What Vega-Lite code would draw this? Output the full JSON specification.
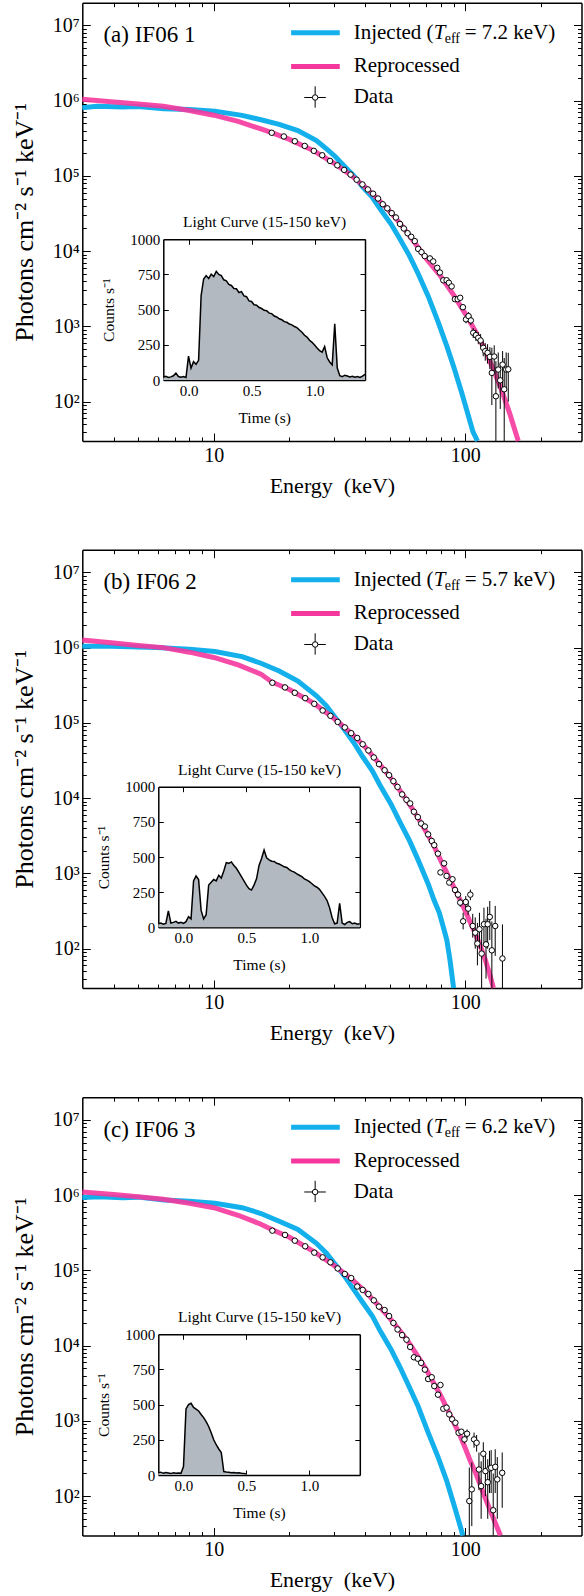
{
"$schema": "https://vega.github.io/schema/vega-lite/v6.json",
"width": 584, "height": 1596,
"autosize": {"type": "none"},
"padding": 0,
"background": "white",
"config": {
  "view": {"stroke": null},
  "font": "Liberation Serif, Times New Roman, Times, serif",
  "axis": {"grid": false, "labelFont": "Liberation Serif, Times New Roman, Times, serif", "titleFont": "Liberation Serif, Times New Roman, Times, serif", "labelColor": "black", "titleColor": "black", "tickColor": "black", "domainColor": "black", "titleFontWeight": "normal", "labelFlush": false, "labelOverlap": false, "labelBound": false, "tickWidth": 1, "domainWidth": 1.5},
  "text": {"font": "Liberation Serif, Times New Roman, Times, serif", "color": "black"}
},
"resolve": {"scale": {"x": "independent", "y": "independent"}, "axis": {"x": "independent", "y": "independent"}},
"datasets": {
"blueA": [{"E":3,"F":805000},{"E":3.43,"F":840000},{"E":4.35,"F":820000},{"E":5,"F":835000},{"E":6.33,"F":780000},{"E":8,"F":760000},{"E":10.1,"F":720000},{"E":12.96,"F":637000},{"E":15.4,"F":557000},{"E":18.2,"F":483000},{"E":21.6,"F":400000},{"E":25.6,"F":295000},{"E":28,"F":230000},{"E":30.4,"F":181000},{"E":33,"F":135000},{"E":36,"F":101000},{"E":39,"F":72000},{"E":42.7,"F":52000},{"E":46,"F":36000},{"E":50.7,"F":22900},{"E":55,"F":14500},{"E":60.1,"F":8600},{"E":65,"F":5000},{"E":71.3,"F":2500},{"E":78,"F":1150},{"E":84.5,"F":546},{"E":90,"F":290},{"E":96.9,"F":130},{"E":102,"F":72},{"E":107.3,"F":40},{"E":111.8,"F":30}],
"pinkA": [{"E":3,"F":1040000},{"E":4,"F":960000},{"E":5,"F":900000},{"E":6.3,"F":840000},{"E":8,"F":740000},{"E":10,"F":640000},{"E":12.5,"F":530000},{"E":15.4,"F":420000},{"E":17,"F":375000},{"E":20,"F":305000},{"E":25,"F":215000},{"E":30,"F":148000},{"E":35,"F":103000},{"E":40,"F":71000},{"E":45,"F":49000},{"E":50,"F":34000},{"E":55,"F":23500},{"E":60,"F":16000},{"E":65,"F":11200},{"E":70,"F":7900},{"E":80,"F":4600},{"E":90,"F":2600},{"E":100,"F":1480},{"E":110,"F":850},{"E":120,"F":480},{"E":130,"F":257},{"E":140,"F":138},{"E":150,"F":71},{"E":160,"F":35.5},{"E":162.5,"F":30}],
"dataA": [{"E":17,"F":374000},{"E":19,"F":334000},{"E":21,"F":289000},{"E":23,"F":250000},{"E":25,"F":215000},{"E":27,"F":188000},{"E":29,"F":158000},{"E":31,"F":138000},{"E":33,"F":120000},{"E":35,"F":104000},{"E":37,"F":89000},{"E":39,"F":77000},{"E":41,"F":66000},{"E":43,"F":58000},{"E":45,"F":50000},{"E":47,"F":42000},{"E":49,"F":37000},{"E":51,"F":32000},{"E":53,"F":28000},{"E":55,"F":23000},{"E":57,"F":20000},{"E":59,"F":17300},{"E":61,"F":15500},{"E":63,"F":13600},{"E":65,"F":10700},{"E":67,"F":9700},{"E":69,"F":8600},{"E":72.4,"F":8000},{"E":74.6,"F":7300},{"E":77.4,"F":6000},{"E":79.3,"F":5200},{"E":81.8,"F":4100},{"E":84.3,"F":4100},{"E":86.1,"F":3800},{"E":88.3,"F":3400},{"E":91,"F":2300},{"E":93.3,"F":2300},{"E":95.5,"F":2400},{"E":97.9,"F":1800},{"E":100.7,"F":1240,"lo":1100,"hi":1400},{"E":103.1,"F":1370,"lo":1200,"hi":1550},{"E":105.3,"F":1200,"lo":1050,"hi":1370},{"E":107.6,"F":822,"lo":700,"hi":950},{"E":110.3,"F":766,"lo":640,"hi":900},{"E":112.7,"F":705,"lo":580,"hi":840},{"E":115.1,"F":650,"lo":520,"hi":790},{"E":117.9,"F":519,"lo":400,"hi":650},{"E":120.1,"F":468,"lo":350,"hi":600},{"E":122.7,"F":445,"lo":320,"hi":580},{"E":125.3,"F":394,"lo":270,"hi":530},{"E":127.6,"F":241,"lo":90,"hi":520},{"E":130.4,"F":398,"lo":250,"hi":560},{"E":132.4,"F":118,"lo":30,"hi":345},{"E":135.3,"F":267,"lo":150,"hi":450},{"E":137.8,"F":192,"lo":80,"hi":330},{"E":140.8,"F":311,"lo":140,"hi":470},{"E":142.9,"F":146,"lo":30,"hi":380},{"E":145.5,"F":267,"lo":140,"hi":450},{"E":148.3,"F":269,"lo":100,"hi":445}],
"blueB": [{"E":3,"F":1040000},{"E":3.93,"F":1040000},{"E":5,"F":1020000},{"E":5.9,"F":1000000},{"E":8,"F":950000},{"E":10.1,"F":890000},{"E":12.96,"F":760000},{"E":15.4,"F":620000},{"E":18.2,"F":490000},{"E":21.6,"F":360000},{"E":25.6,"F":229000},{"E":28,"F":170000},{"E":30.4,"F":118000},{"E":33,"F":82000},{"E":36,"F":55000},{"E":39,"F":36000},{"E":42.7,"F":23000},{"E":46,"F":14500},{"E":50.7,"F":8300},{"E":55,"F":4800},{"E":60.1,"F":2700},{"E":65,"F":1500},{"E":71.3,"F":718},{"E":75,"F":450},{"E":78.8,"F":301},{"E":81.6,"F":200},{"E":84.5,"F":130},{"E":87,"F":70},{"E":89.9,"F":30}],
"pinkB": [{"E":3,"F":1260000},{"E":4,"F":1150000},{"E":5,"F":1070000},{"E":6.3,"F":1000000},{"E":8,"F":870000},{"E":10,"F":740000},{"E":12.5,"F":590000},{"E":15.4,"F":445000},{"E":17,"F":350000},{"E":20,"F":277000},{"E":25,"F":182000},{"E":30,"F":115000},{"E":35,"F":74000},{"E":40,"F":48000},{"E":45,"F":30000},{"E":50,"F":19500},{"E":55,"F":12600},{"E":60,"F":8300},{"E":65,"F":5400},{"E":70,"F":3550},{"E":75,"F":2340},{"E":80,"F":1480},{"E":85,"F":977},{"E":90,"F":661},{"E":95,"F":457},{"E":100,"F":316},{"E":105,"F":219},{"E":110,"F":155},{"E":115,"F":107},{"E":120,"F":72},{"E":125,"F":46},{"E":129.5,"F":30}],
"dataB": [{"E":17.1,"F":341000},{"E":19.2,"F":296000},{"E":21,"F":251000},{"E":23.1,"F":213000},{"E":25.1,"F":179000},{"E":27.1,"F":146000},{"E":29.1,"F":124000},{"E":31.1,"F":103000},{"E":33.2,"F":87000},{"E":35.2,"F":73000},{"E":37.2,"F":63000},{"E":39.1,"F":52000},{"E":41.2,"F":43000},{"E":43.3,"F":34700},{"E":45.4,"F":28300},{"E":47.8,"F":23500},{"E":49.8,"F":20200},{"E":51.8,"F":16800},{"E":53.8,"F":14100},{"E":56.1,"F":11200},{"E":58.4,"F":9500},{"E":60.4,"F":8500},{"E":62.5,"F":6600},{"E":64.8,"F":5600},{"E":66.8,"F":4600},{"E":69.1,"F":4200},{"E":71.2,"F":3300},{"E":73.6,"F":2700},{"E":75.3,"F":2370},{"E":77.9,"F":1830},{"E":79.7,"F":1030},{"E":82.4,"F":1360},{"E":84.3,"F":925},{"E":86.4,"F":755},{"E":89,"F":836},{"E":91.1,"F":603},{"E":93.6,"F":522,"lo":470,"hi":580},{"E":95.5,"F":409,"lo":360,"hi":465},{"E":98.1,"F":231,"lo":180,"hi":300},{"E":100.5,"F":417,"lo":350,"hi":500},{"E":102.7,"F":340,"lo":280,"hi":420},{"E":104.8,"F":522,"lo":440,"hi":610},{"E":107.1,"F":200,"lo":140,"hi":290},{"E":109.6,"F":163,"lo":100,"hi":260},{"E":111.8,"F":117,"lo":60,"hi":220},{"E":113.9,"F":181,"lo":100,"hi":300},{"E":116.2,"F":86,"lo":30,"hi":190},{"E":118.7,"F":211,"lo":110,"hi":350},{"E":121,"F":114,"lo":40,"hi":250},{"E":122.8,"F":211,"lo":100,"hi":360},{"E":125.2,"F":264,"lo":130,"hi":430},{"E":127.6,"F":95,"lo":30,"hi":230},{"E":131.6,"F":200,"lo":80,"hi":370},{"E":140.6,"F":74,"lo":30,"hi":210}],
"blueC": [{"E":3,"F":930000},{"E":3.5,"F":950000},{"E":4.35,"F":920000},{"E":5,"F":940000},{"E":6.33,"F":860000},{"E":8,"F":830000},{"E":10.1,"F":780000},{"E":12.96,"F":680000},{"E":15.4,"F":570000},{"E":18.2,"F":450000},{"E":21.6,"F":350000},{"E":25.6,"F":229000},{"E":28,"F":170000},{"E":30.4,"F":120000},{"E":33,"F":85000},{"E":36,"F":56000},{"E":39,"F":38000},{"E":42.7,"F":24800},{"E":46,"F":15500},{"E":50.7,"F":8900},{"E":55,"F":5200},{"E":60.1,"F":2760},{"E":65,"F":1550},{"E":71.3,"F":695},{"E":78,"F":330},{"E":84.5,"F":158},{"E":90.5,"F":74},{"E":94,"F":48},{"E":97.9,"F":30}],
"pinkC": [{"E":3,"F":1100000},{"E":4,"F":1020000},{"E":5,"F":950000},{"E":6.3,"F":880000},{"E":8,"F":780000},{"E":10,"F":680000},{"E":12.5,"F":540000},{"E":15.4,"F":410000},{"E":17,"F":350000},{"E":20,"F":275000},{"E":25,"F":178000},{"E":30,"F":117000},{"E":35,"F":79000},{"E":40,"F":52500},{"E":45,"F":34700},{"E":50,"F":23400},{"E":55,"F":15800},{"E":60,"F":10700},{"E":65,"F":7100},{"E":70,"F":4800},{"E":75,"F":3160},{"E":80,"F":2140},{"E":85,"F":1410},{"E":90,"F":955},{"E":95,"F":661},{"E":100,"F":437},{"E":105,"F":288},{"E":110,"F":204},{"E":115,"F":138},{"E":120,"F":95},{"E":125,"F":68},{"E":130,"F":49},{"E":135,"F":36},{"E":138,"F":30}],
"dataC": [{"E":17.1,"F":337000},{"E":19.2,"F":296000},{"E":21,"F":248000},{"E":23.1,"F":209000},{"E":25.1,"F":172000},{"E":27.1,"F":149000},{"E":29.1,"F":128000},{"E":31.1,"F":106000},{"E":33.2,"F":89500},{"E":35.2,"F":79000},{"E":37.2,"F":61000},{"E":39.1,"F":55000},{"E":41.2,"F":48500},{"E":43.3,"F":40000},{"E":45.4,"F":33000},{"E":47.8,"F":29700},{"E":49.8,"F":24700},{"E":51.8,"F":20000},{"E":53.8,"F":16400},{"E":56.1,"F":13800},{"E":58.4,"F":12000},{"E":60.4,"F":9600},{"E":62.5,"F":7000},{"E":64.8,"F":6700},{"E":66.8,"F":5900},{"E":69.1,"F":4800},{"E":71.2,"F":3600},{"E":73.6,"F":3800},{"E":75.3,"F":2900},{"E":77.9,"F":2230},{"E":79.7,"F":3000},{"E":81.8,"F":1450},{"E":84.3,"F":1500},{"E":86.4,"F":1220},{"E":88.7,"F":1050},{"E":91.4,"F":945},{"E":94.1,"F":695},{"E":96.5,"F":718},{"E":99.3,"F":568,"lo":500,"hi":640},{"E":101.7,"F":675,"lo":590,"hi":770},{"E":103.8,"F":86,"lo":30,"hi":240},{"E":106.2,"F":123,"lo":40,"hi":280},{"E":108.4,"F":568,"lo":440,"hi":700},{"E":111,"F":512,"lo":390,"hi":650},{"E":113.4,"F":226,"lo":120,"hi":380},{"E":115.7,"F":136,"lo":50,"hi":290},{"E":118,"F":366,"lo":230,"hi":520},{"E":120.3,"F":215,"lo":100,"hi":370},{"E":122.9,"F":153,"lo":50,"hi":310},{"E":124.9,"F":233,"lo":110,"hi":400},{"E":126.8,"F":238,"lo":110,"hi":410},{"E":129.2,"F":65,"lo":30,"hi":200},{"E":131.6,"F":245,"lo":110,"hi":420},{"E":134.1,"F":167,"lo":50,"hi":330},{"E":140.3,"F":204,"lo":70,"hi":380}],
"lcA": [{"t":-0.2,"r":20},{"t":-0.18,"r":26},{"t":-0.16,"r":18},{"t":-0.14,"r":22},{"t":-0.12,"r":30},{"t":-0.1,"r":48},{"t":-0.08,"r":25},{"t":-0.06,"r":20},{"t":-0.04,"r":24},{"t":-0.02,"r":18},{"t":0,"r":170},{"t":0.02,"r":85},{"t":0.04,"r":130},{"t":0.06,"r":112},{"t":0.08,"r":140},{"t":0.1,"r":600},{"t":0.12,"r":718},{"t":0.14,"r":742},{"t":0.16,"r":722},{"t":0.18,"r":752},{"t":0.2,"r":735},{"t":0.22,"r":772},{"t":0.24,"r":750},{"t":0.26,"r":742},{"t":0.28,"r":712},{"t":0.3,"r":705},{"t":0.32,"r":680},{"t":0.34,"r":672},{"t":0.36,"r":650},{"t":0.38,"r":648},{"t":0.4,"r":622},{"t":0.42,"r":628},{"t":0.44,"r":598},{"t":0.46,"r":592},{"t":0.48,"r":562},{"t":0.5,"r":558},{"t":0.52,"r":535},{"t":0.54,"r":532},{"t":0.56,"r":515},{"t":0.58,"r":508},{"t":0.6,"r":495},{"t":0.62,"r":492},{"t":0.64,"r":475},{"t":0.66,"r":472},{"t":0.68,"r":455},{"t":0.7,"r":448},{"t":0.72,"r":435},{"t":0.74,"r":428},{"t":0.76,"r":415},{"t":0.78,"r":410},{"t":0.8,"r":398},{"t":0.82,"r":392},{"t":0.84,"r":380},{"t":0.86,"r":372},{"t":0.88,"r":355},{"t":0.9,"r":340},{"t":0.92,"r":318},{"t":0.94,"r":305},{"t":0.96,"r":282},{"t":0.98,"r":268},{"t":1,"r":248},{"t":1.02,"r":228},{"t":1.04,"r":208},{"t":1.06,"r":198},{"t":1.08,"r":238},{"t":1.1,"r":158},{"t":1.12,"r":128},{"t":1.14,"r":108},{"t":1.16,"r":400},{"t":1.18,"r":85},{"t":1.2,"r":30},{"t":1.22,"r":24},{"t":1.24,"r":34},{"t":1.26,"r":28},{"t":1.28,"r":22},{"t":1.3,"r":27},{"t":1.32,"r":20},{"t":1.34,"r":24},{"t":1.36,"r":18},{"t":1.38,"r":28},{"t":1.4,"r":40}],
"lcB": [{"t":-0.2,"r":25},{"t":-0.18,"r":30},{"t":-0.16,"r":22},{"t":-0.14,"r":28},{"t":-0.12,"r":117},{"t":-0.1,"r":30},{"t":-0.08,"r":35},{"t":-0.06,"r":42},{"t":-0.04,"r":30},{"t":-0.02,"r":35},{"t":0,"r":28},{"t":0.02,"r":40},{"t":0.04,"r":75},{"t":0.06,"r":60},{"t":0.08,"r":330},{"t":0.1,"r":365},{"t":0.12,"r":340},{"t":0.14,"r":120},{"t":0.16,"r":60},{"t":0.18,"r":90},{"t":0.2,"r":300},{"t":0.22,"r":320},{"t":0.24,"r":340},{"t":0.26,"r":330},{"t":0.28,"r":370},{"t":0.3,"r":350},{"t":0.32,"r":400},{"t":0.34,"r":460},{"t":0.36,"r":455},{"t":0.38,"r":465},{"t":0.4,"r":440},{"t":0.42,"r":420},{"t":0.44,"r":390},{"t":0.46,"r":360},{"t":0.48,"r":330},{"t":0.5,"r":300},{"t":0.52,"r":275},{"t":0.54,"r":265},{"t":0.56,"r":300},{"t":0.58,"r":345},{"t":0.6,"r":440},{"t":0.62,"r":490},{"t":0.64,"r":550},{"t":0.66,"r":495},{"t":0.68,"r":480},{"t":0.7,"r":470},{"t":0.72,"r":468},{"t":0.74,"r":455},{"t":0.76,"r":450},{"t":0.78,"r":440},{"t":0.8,"r":430},{"t":0.82,"r":425},{"t":0.84,"r":410},{"t":0.86,"r":400},{"t":0.88,"r":392},{"t":0.9,"r":380},{"t":0.92,"r":370},{"t":0.94,"r":360},{"t":0.96,"r":345},{"t":0.98,"r":335},{"t":1,"r":325},{"t":1.02,"r":310},{"t":1.04,"r":295},{"t":1.06,"r":285},{"t":1.08,"r":270},{"t":1.1,"r":245},{"t":1.12,"r":220},{"t":1.14,"r":190},{"t":1.16,"r":140},{"t":1.18,"r":70},{"t":1.2,"r":25},{"t":1.22,"r":30},{"t":1.24,"r":170},{"t":1.26,"r":30},{"t":1.28,"r":20},{"t":1.3,"r":35},{"t":1.32,"r":40},{"t":1.34,"r":25},{"t":1.36,"r":30},{"t":1.38,"r":22},{"t":1.4,"r":25}],
"lcC": [{"t":-0.2,"r":15},{"t":-0.18,"r":20},{"t":-0.16,"r":12},{"t":-0.14,"r":18},{"t":-0.12,"r":14},{"t":-0.1,"r":10},{"t":-0.08,"r":16},{"t":-0.06,"r":12},{"t":-0.04,"r":15},{"t":-0.02,"r":12},{"t":0,"r":60},{"t":0.02,"r":470},{"t":0.04,"r":500},{"t":0.06,"r":510},{"t":0.08,"r":480},{"t":0.1,"r":468},{"t":0.12,"r":455},{"t":0.14,"r":430},{"t":0.16,"r":408},{"t":0.18,"r":380},{"t":0.2,"r":345},{"t":0.22,"r":300},{"t":0.24,"r":250},{"t":0.26,"r":215},{"t":0.28,"r":185},{"t":0.3,"r":160},{"t":0.32,"r":25},{"t":0.34,"r":22},{"t":0.36,"r":20},{"t":0.38,"r":16},{"t":0.4,"r":18},{"t":0.42,"r":14},{"t":0.44,"r":16},{"t":0.46,"r":12},{"t":0.48,"r":10},{"t":0.5,"r":8}]
},
"layer": [
{"data":{"name":"blueA"},"mark":{"type":"line","color":"#14B0EC","strokeWidth":5},
 "encoding":{"x":{"field":"E","type":"quantitative","scale":{"type":"log","domain":[3,290],"range":[82.3,581.5],"nice":false},
   "axis":{"orient":"bottom","offset":-1155,"values":[10,100],"format":"d","tickSize":-8,"labelFontSize":20,"labelPadding":12,"title":"Energy\u00a0 (keV)","titleFontSize":22,"titlePadding":10}},
  "y":{"field":"F","type":"quantitative","scale":{"type":"log","domain":[30,20000000],"range":[441,2.7],"nice":false},
   "axis":{"orient":"left","offset":-82.3,"values":[100,1000,10000,100000,1000000,10000000],"labelExpr":"'10' + ['⁰','¹','²','³','⁴','⁵','⁶','⁷'][round(log(datum.value)/LN10)]","tickSize":-8,"labelFontSize":20,"labelPadding":11,"title":"Photons cm⁻² s⁻¹ keV⁻¹","titleFontSize":26,"titlePadding":15}}}},
{"data":{"name":"pinkA"},"mark":{"type":"line","color":"#F5379D","strokeWidth":5,"opacity":0.9},
 "encoding":{"x":{"field":"E","type":"quantitative","scale":{"type":"log","domain":[3,290],"range":[82.3,581.5],"nice":false},
   "axis":{"orient":"bottom","offset":-1155,"values":[4,5,6,7,8,9,20,30,40,50,60,70,80,90,200],"tickSize":-4,"labels":false,"domain":false,"title":null}},
  "y":{"field":"F","type":"quantitative","scale":{"type":"log","domain":[30,20000000],"range":[441,2.7],"nice":false},
   "axis":{"orient":"left","offset":-82.3,"values":[40,50,60,70,80,90,200,300,400,500,600,700,800,900,2000,3000,4000,5000,6000,7000,8000,9000,20000,30000,40000,50000,60000,70000,80000,90000,200000,300000,400000,500000,600000,700000,800000,900000,2000000,3000000,4000000,5000000,6000000,7000000,8000000,9000000],"tickSize":-4,"labels":false,"domain":false,"title":null}}}},
{"data":{"name":"dataA"},"transform":[{"filter":"isValid(datum.lo)"}],"mark":{"type":"rule","color":"black","strokeWidth":1},
 "encoding":{"x":{"field":"E","type":"quantitative","scale":{"type":"log","domain":[3,290],"range":[82.3,581.5],"nice":false},
   "axis":{"orient":"top","offset":-2.7,"values":[10,100],"tickSize":-8,"labels":false,"title":null}},
  "y":{"field":"lo","type":"quantitative","scale":{"type":"log","domain":[30,20000000],"range":[441,2.7],"nice":false},
   "axis":{"orient":"right","offset":-2.5,"values":[100,1000,10000,100000,1000000,10000000],"tickSize":-8,"labels":false,"title":null}},
  "y2":{"field":"hi"}}},
{"data":{"name":"dataA"},"mark":{"type":"point","shape":"circle","filled":true,"fill":"white","stroke":"black","strokeWidth":1,"size":30,"opacity":1},
 "encoding":{"x":{"field":"E","type":"quantitative","scale":{"type":"log","domain":[3,290],"range":[82.3,581.5],"nice":false},
   "axis":{"orient":"top","offset":-2.7,"values":[4,5,6,7,8,9,20,30,40,50,60,70,80,90,200],"tickSize":-4,"labels":false,"domain":false,"title":null}},
  "y":{"field":"F","type":"quantitative","scale":{"type":"log","domain":[30,20000000],"range":[441,2.7],"nice":false},
   "axis":{"orient":"right","offset":-2.5,"values":[40,50,60,70,80,90,200,300,400,500,600,700,800,900,2000,3000,4000,5000,6000,7000,8000,9000,20000,30000,40000,50000,60000,70000,80000,90000,200000,300000,400000,500000,600000,700000,800000,900000,2000000,3000000,4000000,5000000,6000000,7000000,8000000,9000000],"tickSize":-4,"labels":false,"domain":false,"title":null}}}},
{"data":{"values":[{}]},"mark":{"type":"rule","color":"#14B0EC","strokeWidth":5},
 "encoding":{"x":{"datum":20.3,"type":"quantitative","scale":{"type":"log","domain":[3,290],"range":[82.3,581.5],"nice":false},"axis":null},"x2":{"datum":31.7},
  "y":{"datum":8000000,"type":"quantitative","scale":{"type":"log","domain":[30,20000000],"range":[441,2.7],"nice":false},"axis":null}}},
{"data":{"values":[{}]},"mark":{"type":"rule","color":"#F5379D","strokeWidth":5},
 "encoding":{"x":{"datum":20.3,"type":"quantitative","scale":{"type":"log","domain":[3,290],"range":[82.3,581.5],"nice":false},"axis":null},"x2":{"datum":31.7},
  "y":{"datum":2850000,"type":"quantitative","scale":{"type":"log","domain":[30,20000000],"range":[441,2.7],"nice":false},"axis":null}}},
{"data":{"values":[{}]},"mark":{"type":"rule","color":"black","strokeWidth":1},
 "encoding":{"x":{"datum":25.3,"type":"quantitative","scale":{"type":"log","domain":[3,290],"range":[82.3,581.5],"nice":false},"axis":null},
  "y":{"datum":806000,"type":"quantitative","scale":{"type":"log","domain":[30,20000000],"range":[441,2.7],"nice":false},"axis":null},"y2":{"datum":1550000}}},
{"data":{"values":[{}]},"mark":{"type":"rule","color":"black","strokeWidth":1},
 "encoding":{"x":{"datum":22.9,"type":"quantitative","scale":{"type":"log","domain":[3,290],"range":[82.3,581.5],"nice":false},"axis":null},"x2":{"datum":27.9},
  "y":{"datum":1100000,"type":"quantitative","scale":{"type":"log","domain":[30,20000000],"range":[441,2.7],"nice":false},"axis":null}}},
{"data":{"values":[{}]},"mark":{"type":"point","shape":"circle","filled":true,"fill":"white","stroke":"black","strokeWidth":1,"size":30,"opacity":1},
 "encoding":{"x":{"datum":25.3,"type":"quantitative","scale":{"type":"log","domain":[3,290],"range":[82.3,581.5],"nice":false},"axis":null},
  "y":{"datum":1100000,"type":"quantitative","scale":{"type":"log","domain":[30,20000000],"range":[441,2.7],"nice":false},"axis":null}}},
{"data":{"values":[{}]},"mark":{"type":"text","align":"left","baseline":"middle","fontSize":21},
 "encoding":{"text":{"value":"Injected ("},"x":{"datum":36,"type":"quantitative","scale":{"type":"log","domain":[3,290],"range":[82.3,581.5],"nice":false},"axis":null},
  "y":{"datum":8000000,"type":"quantitative","scale":{"type":"log","domain":[30,20000000],"range":[441,2.7],"nice":false},"axis":null}}},
{"data":{"values":[{}]},"mark":{"type":"text","align":"left","baseline":"middle","fontSize":21,"fontStyle":"italic","dx":80},
 "encoding":{"text":{"value":"T"},"x":{"datum":36,"type":"quantitative","scale":{"type":"log","domain":[3,290],"range":[82.3,581.5],"nice":false},"axis":null},
  "y":{"datum":8000000,"type":"quantitative","scale":{"type":"log","domain":[30,20000000],"range":[441,2.7],"nice":false},"axis":null}}},
{"data":{"values":[{}]},"mark":{"type":"text","align":"left","baseline":"middle","fontSize":14,"dx":91,"dy":6},
 "encoding":{"text":{"value":"eff"},"x":{"datum":36,"type":"quantitative","scale":{"type":"log","domain":[3,290],"range":[82.3,581.5],"nice":false},"axis":null},
  "y":{"datum":8000000,"type":"quantitative","scale":{"type":"log","domain":[30,20000000],"range":[441,2.7],"nice":false},"axis":null}}},
{"data":{"values":[{}]},"mark":{"type":"text","align":"left","baseline":"middle","fontSize":21,"dx":111},
 "encoding":{"text":{"value":"= 7.2 keV)"},"x":{"datum":36,"type":"quantitative","scale":{"type":"log","domain":[3,290],"range":[82.3,581.5],"nice":false},"axis":null},
  "y":{"datum":8000000,"type":"quantitative","scale":{"type":"log","domain":[30,20000000],"range":[441,2.7],"nice":false},"axis":null}}},
{"data":{"values":[{}]},"mark":{"type":"text","align":"left","baseline":"middle","fontSize":21},
 "encoding":{"text":{"value":"Reprocessed"},"x":{"datum":36,"type":"quantitative","scale":{"type":"log","domain":[3,290],"range":[82.3,581.5],"nice":false},"axis":null},
  "y":{"datum":2850000,"type":"quantitative","scale":{"type":"log","domain":[30,20000000],"range":[441,2.7],"nice":false},"axis":null}}},
{"data":{"values":[{}]},"mark":{"type":"text","align":"left","baseline":"middle","fontSize":21},
 "encoding":{"text":{"value":"Data"},"x":{"datum":36,"type":"quantitative","scale":{"type":"log","domain":[3,290],"range":[82.3,581.5],"nice":false},"axis":null},
  "y":{"datum":1100000,"type":"quantitative","scale":{"type":"log","domain":[30,20000000],"range":[441,2.7],"nice":false},"axis":null}}},
{"data":{"values":[{}]},"mark":{"type":"text","align":"left","baseline":"middle","fontSize":23},
 "encoding":{"text":{"value":"(a) IF06 1"},"x":{"datum":3.64,"type":"quantitative","scale":{"type":"log","domain":[3,290],"range":[82.3,581.5],"nice":false},"axis":null},
  "y":{"datum":7420000,"type":"quantitative","scale":{"type":"log","domain":[30,20000000],"range":[441,2.7],"nice":false},"axis":null}}},
{"data":{"name":"lcA"},"mark":{"type":"area","color":"#B2B9C0","opacity":1},
 "encoding":{"x":{"field":"t","type":"quantitative","scale":{"type":"linear","domain":[-0.2,1.4],"range":[163.3,365],"nice":false,"zero":false},
   "axis":{"orient":"bottom","offset":-1216,"values":[0,0.5,1],"format":".1f","tickSize":-5,"labelFontSize":15,"labelPadding":8,"title":"Time (s)","titleFontSize":15.5,"titlePadding":12}},
  "y":{"field":"r","type":"quantitative","scale":{"type":"linear","domain":[0,1000],"range":[380,239.3],"nice":false,"zero":false},
   "axis":{"orient":"left","offset":-163.3,"values":[0,250,500,750,1000],"format":"d","tickSize":-5,"labelFontSize":15,"labelPadding":8.5,"title":"Counts s⁻¹","titleFontSize":15.5,"titlePadding":13.5}},
  "y2":{"datum":0}}},
{"data":{"name":"lcA"},"mark":{"type":"line","color":"black","strokeWidth":1.5},
 "encoding":{"x":{"field":"t","type":"quantitative","scale":{"type":"linear","domain":[-0.2,1.4],"range":[163.3,365],"nice":false,"zero":false},
   "axis":{"orient":"top","offset":-239.3,"values":[0,0.5,1],"tickSize":-5,"labels":false,"title":"Light Curve (15-150 keV)","titleFontSize":15.5,"titlePadding":9}},
  "y":{"field":"r","type":"quantitative","scale":{"type":"linear","domain":[0,1000],"range":[380,239.3],"nice":false,"zero":false},
   "axis":{"orient":"right","offset":-219,"values":[0,250,500,750,1000],"tickSize":-5,"labels":false,"title":null}}}},

{"data":{"name":"blueB"},"mark":{"type":"line","color":"#14B0EC","strokeWidth":5},
 "encoding":{"x":{"field":"E","type":"quantitative","scale":{"type":"log","domain":[3,290],"range":[82.3,581.5],"nice":false},
   "axis":{"orient":"bottom","offset":-608,"values":[10,100],"format":"d","tickSize":-8,"labelFontSize":20,"labelPadding":12,"title":"Energy\u00a0 (keV)","titleFontSize":22,"titlePadding":10}},
  "y":{"field":"F","type":"quantitative","scale":{"type":"log","domain":[30,20000000],"range":[988,549.7],"nice":false},
   "axis":{"orient":"left","offset":-82.3,"values":[100,1000,10000,100000,1000000,10000000],"labelExpr":"'10' + ['⁰','¹','²','³','⁴','⁵','⁶','⁷'][round(log(datum.value)/LN10)]","tickSize":-8,"labelFontSize":20,"labelPadding":11,"title":"Photons cm⁻² s⁻¹ keV⁻¹","titleFontSize":26,"titlePadding":15}}}},
{"data":{"name":"pinkB"},"mark":{"type":"line","color":"#F5379D","strokeWidth":5,"opacity":0.9},
 "encoding":{"x":{"field":"E","type":"quantitative","scale":{"type":"log","domain":[3,290],"range":[82.3,581.5],"nice":false},
   "axis":{"orient":"bottom","offset":-608,"values":[4,5,6,7,8,9,20,30,40,50,60,70,80,90,200],"tickSize":-4,"labels":false,"domain":false,"title":null}},
  "y":{"field":"F","type":"quantitative","scale":{"type":"log","domain":[30,20000000],"range":[988,549.7],"nice":false},
   "axis":{"orient":"left","offset":-82.3,"values":[40,50,60,70,80,90,200,300,400,500,600,700,800,900,2000,3000,4000,5000,6000,7000,8000,9000,20000,30000,40000,50000,60000,70000,80000,90000,200000,300000,400000,500000,600000,700000,800000,900000,2000000,3000000,4000000,5000000,6000000,7000000,8000000,9000000],"tickSize":-4,"labels":false,"domain":false,"title":null}}}},
{"data":{"name":"dataB"},"transform":[{"filter":"isValid(datum.lo)"}],"mark":{"type":"rule","color":"black","strokeWidth":1},
 "encoding":{"x":{"field":"E","type":"quantitative","scale":{"type":"log","domain":[3,290],"range":[82.3,581.5],"nice":false},
   "axis":{"orient":"top","offset":-549.7,"values":[10,100],"tickSize":-8,"labels":false,"title":null}},
  "y":{"field":"lo","type":"quantitative","scale":{"type":"log","domain":[30,20000000],"range":[988,549.7],"nice":false},
   "axis":{"orient":"right","offset":-2.5,"values":[100,1000,10000,100000,1000000,10000000],"tickSize":-8,"labels":false,"title":null}},
  "y2":{"field":"hi"}}},
{"data":{"name":"dataB"},"mark":{"type":"point","shape":"circle","filled":true,"fill":"white","stroke":"black","strokeWidth":1,"size":30,"opacity":1},
 "encoding":{"x":{"field":"E","type":"quantitative","scale":{"type":"log","domain":[3,290],"range":[82.3,581.5],"nice":false},
   "axis":{"orient":"top","offset":-549.7,"values":[4,5,6,7,8,9,20,30,40,50,60,70,80,90,200],"tickSize":-4,"labels":false,"domain":false,"title":null}},
  "y":{"field":"F","type":"quantitative","scale":{"type":"log","domain":[30,20000000],"range":[988,549.7],"nice":false},
   "axis":{"orient":"right","offset":-2.5,"values":[40,50,60,70,80,90,200,300,400,500,600,700,800,900,2000,3000,4000,5000,6000,7000,8000,9000,20000,30000,40000,50000,60000,70000,80000,90000,200000,300000,400000,500000,600000,700000,800000,900000,2000000,3000000,4000000,5000000,6000000,7000000,8000000,9000000],"tickSize":-4,"labels":false,"domain":false,"title":null}}}},
{"data":{"values":[{}]},"mark":{"type":"rule","color":"#14B0EC","strokeWidth":5},
 "encoding":{"x":{"datum":20.3,"type":"quantitative","scale":{"type":"log","domain":[3,290],"range":[82.3,581.5],"nice":false},"axis":null},"x2":{"datum":31.7},
  "y":{"datum":8000000,"type":"quantitative","scale":{"type":"log","domain":[30,20000000],"range":[988,549.7],"nice":false},"axis":null}}},
{"data":{"values":[{}]},"mark":{"type":"rule","color":"#F5379D","strokeWidth":5},
 "encoding":{"x":{"datum":20.3,"type":"quantitative","scale":{"type":"log","domain":[3,290],"range":[82.3,581.5],"nice":false},"axis":null},"x2":{"datum":31.7},
  "y":{"datum":2850000,"type":"quantitative","scale":{"type":"log","domain":[30,20000000],"range":[988,549.7],"nice":false},"axis":null}}},
{"data":{"values":[{}]},"mark":{"type":"rule","color":"black","strokeWidth":1},
 "encoding":{"x":{"datum":25.3,"type":"quantitative","scale":{"type":"log","domain":[3,290],"range":[82.3,581.5],"nice":false},"axis":null},
  "y":{"datum":806000,"type":"quantitative","scale":{"type":"log","domain":[30,20000000],"range":[988,549.7],"nice":false},"axis":null},"y2":{"datum":1550000}}},
{"data":{"values":[{}]},"mark":{"type":"rule","color":"black","strokeWidth":1},
 "encoding":{"x":{"datum":22.9,"type":"quantitative","scale":{"type":"log","domain":[3,290],"range":[82.3,581.5],"nice":false},"axis":null},"x2":{"datum":27.9},
  "y":{"datum":1100000,"type":"quantitative","scale":{"type":"log","domain":[30,20000000],"range":[988,549.7],"nice":false},"axis":null}}},
{"data":{"values":[{}]},"mark":{"type":"point","shape":"circle","filled":true,"fill":"white","stroke":"black","strokeWidth":1,"size":30,"opacity":1},
 "encoding":{"x":{"datum":25.3,"type":"quantitative","scale":{"type":"log","domain":[3,290],"range":[82.3,581.5],"nice":false},"axis":null},
  "y":{"datum":1100000,"type":"quantitative","scale":{"type":"log","domain":[30,20000000],"range":[988,549.7],"nice":false},"axis":null}}},
{"data":{"values":[{}]},"mark":{"type":"text","align":"left","baseline":"middle","fontSize":21},
 "encoding":{"text":{"value":"Injected ("},"x":{"datum":36,"type":"quantitative","scale":{"type":"log","domain":[3,290],"range":[82.3,581.5],"nice":false},"axis":null},
  "y":{"datum":8000000,"type":"quantitative","scale":{"type":"log","domain":[30,20000000],"range":[988,549.7],"nice":false},"axis":null}}},
{"data":{"values":[{}]},"mark":{"type":"text","align":"left","baseline":"middle","fontSize":21,"fontStyle":"italic","dx":80},
 "encoding":{"text":{"value":"T"},"x":{"datum":36,"type":"quantitative","scale":{"type":"log","domain":[3,290],"range":[82.3,581.5],"nice":false},"axis":null},
  "y":{"datum":8000000,"type":"quantitative","scale":{"type":"log","domain":[30,20000000],"range":[988,549.7],"nice":false},"axis":null}}},
{"data":{"values":[{}]},"mark":{"type":"text","align":"left","baseline":"middle","fontSize":14,"dx":91,"dy":6},
 "encoding":{"text":{"value":"eff"},"x":{"datum":36,"type":"quantitative","scale":{"type":"log","domain":[3,290],"range":[82.3,581.5],"nice":false},"axis":null},
  "y":{"datum":8000000,"type":"quantitative","scale":{"type":"log","domain":[30,20000000],"range":[988,549.7],"nice":false},"axis":null}}},
{"data":{"values":[{}]},"mark":{"type":"text","align":"left","baseline":"middle","fontSize":21,"dx":111},
 "encoding":{"text":{"value":"= 5.7 keV)"},"x":{"datum":36,"type":"quantitative","scale":{"type":"log","domain":[3,290],"range":[82.3,581.5],"nice":false},"axis":null},
  "y":{"datum":8000000,"type":"quantitative","scale":{"type":"log","domain":[30,20000000],"range":[988,549.7],"nice":false},"axis":null}}},
{"data":{"values":[{}]},"mark":{"type":"text","align":"left","baseline":"middle","fontSize":21},
 "encoding":{"text":{"value":"Reprocessed"},"x":{"datum":36,"type":"quantitative","scale":{"type":"log","domain":[3,290],"range":[82.3,581.5],"nice":false},"axis":null},
  "y":{"datum":2850000,"type":"quantitative","scale":{"type":"log","domain":[30,20000000],"range":[988,549.7],"nice":false},"axis":null}}},
{"data":{"values":[{}]},"mark":{"type":"text","align":"left","baseline":"middle","fontSize":21},
 "encoding":{"text":{"value":"Data"},"x":{"datum":36,"type":"quantitative","scale":{"type":"log","domain":[3,290],"range":[82.3,581.5],"nice":false},"axis":null},
  "y":{"datum":1100000,"type":"quantitative","scale":{"type":"log","domain":[30,20000000],"range":[988,549.7],"nice":false},"axis":null}}},
{"data":{"values":[{}]},"mark":{"type":"text","align":"left","baseline":"middle","fontSize":23},
 "encoding":{"text":{"value":"(b) IF06 2"},"x":{"datum":3.64,"type":"quantitative","scale":{"type":"log","domain":[3,290],"range":[82.3,581.5],"nice":false},"axis":null},
  "y":{"datum":7420000,"type":"quantitative","scale":{"type":"log","domain":[30,20000000],"range":[988,549.7],"nice":false},"axis":null}}},
{"data":{"name":"lcB"},"mark":{"type":"area","color":"#B2B9C0","opacity":1},
 "encoding":{"x":{"field":"t","type":"quantitative","scale":{"type":"linear","domain":[-0.2,1.4],"range":[158.3,359.8],"nice":false,"zero":false},
   "axis":{"orient":"bottom","offset":-668.7,"values":[0,0.5,1],"format":".1f","tickSize":-5,"labelFontSize":15,"labelPadding":8,"title":"Time (s)","titleFontSize":15.5,"titlePadding":12}},
  "y":{"field":"r","type":"quantitative","scale":{"type":"linear","domain":[0,1000],"range":[927.3,786.7],"nice":false,"zero":false},
   "axis":{"orient":"left","offset":-158.3,"values":[0,250,500,750,1000],"format":"d","tickSize":-5,"labelFontSize":15,"labelPadding":8.5,"title":"Counts s⁻¹","titleFontSize":15.5,"titlePadding":13.5}},
  "y2":{"datum":0}}},
{"data":{"name":"lcB"},"mark":{"type":"line","color":"black","strokeWidth":1.5},
 "encoding":{"x":{"field":"t","type":"quantitative","scale":{"type":"linear","domain":[-0.2,1.4],"range":[158.3,359.8],"nice":false,"zero":false},
   "axis":{"orient":"top","offset":-786.7,"values":[0,0.5,1],"tickSize":-5,"labels":false,"title":"Light Curve (15-150 keV)","titleFontSize":15.5,"titlePadding":9}},
  "y":{"field":"r","type":"quantitative","scale":{"type":"linear","domain":[0,1000],"range":[927.3,786.7],"nice":false,"zero":false},
   "axis":{"orient":"right","offset":-224.2,"values":[0,250,500,750,1000],"tickSize":-5,"labels":false,"title":null}}}},

{"data":{"name":"blueC"},"mark":{"type":"line","color":"#14B0EC","strokeWidth":5},
 "encoding":{"x":{"field":"E","type":"quantitative","scale":{"type":"log","domain":[3,290],"range":[82.3,581.5],"nice":false},
   "axis":{"orient":"bottom","offset":-60.5,"values":[10,100],"format":"d","tickSize":-8,"labelFontSize":20,"labelPadding":12,"title":"Energy\u00a0 (keV)","titleFontSize":22,"titlePadding":10}},
  "y":{"field":"F","type":"quantitative","scale":{"type":"log","domain":[30,20000000],"range":[1535.5,1097.2],"nice":false},
   "axis":{"orient":"left","offset":-82.3,"values":[100,1000,10000,100000,1000000,10000000],"labelExpr":"'10' + ['⁰','¹','²','³','⁴','⁵','⁶','⁷'][round(log(datum.value)/LN10)]","tickSize":-8,"labelFontSize":20,"labelPadding":11,"title":"Photons cm⁻² s⁻¹ keV⁻¹","titleFontSize":26,"titlePadding":15}}}},
{"data":{"name":"pinkC"},"mark":{"type":"line","color":"#F5379D","strokeWidth":5,"opacity":0.9},
 "encoding":{"x":{"field":"E","type":"quantitative","scale":{"type":"log","domain":[3,290],"range":[82.3,581.5],"nice":false},
   "axis":{"orient":"bottom","offset":-60.5,"values":[4,5,6,7,8,9,20,30,40,50,60,70,80,90,200],"tickSize":-4,"labels":false,"domain":false,"title":null}},
  "y":{"field":"F","type":"quantitative","scale":{"type":"log","domain":[30,20000000],"range":[1535.5,1097.2],"nice":false},
   "axis":{"orient":"left","offset":-82.3,"values":[40,50,60,70,80,90,200,300,400,500,600,700,800,900,2000,3000,4000,5000,6000,7000,8000,9000,20000,30000,40000,50000,60000,70000,80000,90000,200000,300000,400000,500000,600000,700000,800000,900000,2000000,3000000,4000000,5000000,6000000,7000000,8000000,9000000],"tickSize":-4,"labels":false,"domain":false,"title":null}}}},
{"data":{"name":"dataC"},"transform":[{"filter":"isValid(datum.lo)"}],"mark":{"type":"rule","color":"black","strokeWidth":1},
 "encoding":{"x":{"field":"E","type":"quantitative","scale":{"type":"log","domain":[3,290],"range":[82.3,581.5],"nice":false},
   "axis":{"orient":"top","offset":-1097.2,"values":[10,100],"tickSize":-8,"labels":false,"title":null}},
  "y":{"field":"lo","type":"quantitative","scale":{"type":"log","domain":[30,20000000],"range":[1535.5,1097.2],"nice":false},
   "axis":{"orient":"right","offset":-2.5,"values":[100,1000,10000,100000,1000000,10000000],"tickSize":-8,"labels":false,"title":null}},
  "y2":{"field":"hi"}}},
{"data":{"name":"dataC"},"mark":{"type":"point","shape":"circle","filled":true,"fill":"white","stroke":"black","strokeWidth":1,"size":30,"opacity":1},
 "encoding":{"x":{"field":"E","type":"quantitative","scale":{"type":"log","domain":[3,290],"range":[82.3,581.5],"nice":false},
   "axis":{"orient":"top","offset":-1097.2,"values":[4,5,6,7,8,9,20,30,40,50,60,70,80,90,200],"tickSize":-4,"labels":false,"domain":false,"title":null}},
  "y":{"field":"F","type":"quantitative","scale":{"type":"log","domain":[30,20000000],"range":[1535.5,1097.2],"nice":false},
   "axis":{"orient":"right","offset":-2.5,"values":[40,50,60,70,80,90,200,300,400,500,600,700,800,900,2000,3000,4000,5000,6000,7000,8000,9000,20000,30000,40000,50000,60000,70000,80000,90000,200000,300000,400000,500000,600000,700000,800000,900000,2000000,3000000,4000000,5000000,6000000,7000000,8000000,9000000],"tickSize":-4,"labels":false,"domain":false,"title":null}}}},
{"data":{"values":[{}]},"mark":{"type":"rule","color":"#14B0EC","strokeWidth":5},
 "encoding":{"x":{"datum":20.3,"type":"quantitative","scale":{"type":"log","domain":[3,290],"range":[82.3,581.5],"nice":false},"axis":null},"x2":{"datum":31.7},
  "y":{"datum":8000000,"type":"quantitative","scale":{"type":"log","domain":[30,20000000],"range":[1535.5,1097.2],"nice":false},"axis":null}}},
{"data":{"values":[{}]},"mark":{"type":"rule","color":"#F5379D","strokeWidth":5},
 "encoding":{"x":{"datum":20.3,"type":"quantitative","scale":{"type":"log","domain":[3,290],"range":[82.3,581.5],"nice":false},"axis":null},"x2":{"datum":31.7},
  "y":{"datum":2850000,"type":"quantitative","scale":{"type":"log","domain":[30,20000000],"range":[1535.5,1097.2],"nice":false},"axis":null}}},
{"data":{"values":[{}]},"mark":{"type":"rule","color":"black","strokeWidth":1},
 "encoding":{"x":{"datum":25.3,"type":"quantitative","scale":{"type":"log","domain":[3,290],"range":[82.3,581.5],"nice":false},"axis":null},
  "y":{"datum":806000,"type":"quantitative","scale":{"type":"log","domain":[30,20000000],"range":[1535.5,1097.2],"nice":false},"axis":null},"y2":{"datum":1550000}}},
{"data":{"values":[{}]},"mark":{"type":"rule","color":"black","strokeWidth":1},
 "encoding":{"x":{"datum":22.9,"type":"quantitative","scale":{"type":"log","domain":[3,290],"range":[82.3,581.5],"nice":false},"axis":null},"x2":{"datum":27.9},
  "y":{"datum":1100000,"type":"quantitative","scale":{"type":"log","domain":[30,20000000],"range":[1535.5,1097.2],"nice":false},"axis":null}}},
{"data":{"values":[{}]},"mark":{"type":"point","shape":"circle","filled":true,"fill":"white","stroke":"black","strokeWidth":1,"size":30,"opacity":1},
 "encoding":{"x":{"datum":25.3,"type":"quantitative","scale":{"type":"log","domain":[3,290],"range":[82.3,581.5],"nice":false},"axis":null},
  "y":{"datum":1100000,"type":"quantitative","scale":{"type":"log","domain":[30,20000000],"range":[1535.5,1097.2],"nice":false},"axis":null}}},
{"data":{"values":[{}]},"mark":{"type":"text","align":"left","baseline":"middle","fontSize":21},
 "encoding":{"text":{"value":"Injected ("},"x":{"datum":36,"type":"quantitative","scale":{"type":"log","domain":[3,290],"range":[82.3,581.5],"nice":false},"axis":null},
  "y":{"datum":8000000,"type":"quantitative","scale":{"type":"log","domain":[30,20000000],"range":[1535.5,1097.2],"nice":false},"axis":null}}},
{"data":{"values":[{}]},"mark":{"type":"text","align":"left","baseline":"middle","fontSize":21,"fontStyle":"italic","dx":80},
 "encoding":{"text":{"value":"T"},"x":{"datum":36,"type":"quantitative","scale":{"type":"log","domain":[3,290],"range":[82.3,581.5],"nice":false},"axis":null},
  "y":{"datum":8000000,"type":"quantitative","scale":{"type":"log","domain":[30,20000000],"range":[1535.5,1097.2],"nice":false},"axis":null}}},
{"data":{"values":[{}]},"mark":{"type":"text","align":"left","baseline":"middle","fontSize":14,"dx":91,"dy":6},
 "encoding":{"text":{"value":"eff"},"x":{"datum":36,"type":"quantitative","scale":{"type":"log","domain":[3,290],"range":[82.3,581.5],"nice":false},"axis":null},
  "y":{"datum":8000000,"type":"quantitative","scale":{"type":"log","domain":[30,20000000],"range":[1535.5,1097.2],"nice":false},"axis":null}}},
{"data":{"values":[{}]},"mark":{"type":"text","align":"left","baseline":"middle","fontSize":21,"dx":111},
 "encoding":{"text":{"value":"= 6.2 keV)"},"x":{"datum":36,"type":"quantitative","scale":{"type":"log","domain":[3,290],"range":[82.3,581.5],"nice":false},"axis":null},
  "y":{"datum":8000000,"type":"quantitative","scale":{"type":"log","domain":[30,20000000],"range":[1535.5,1097.2],"nice":false},"axis":null}}},
{"data":{"values":[{}]},"mark":{"type":"text","align":"left","baseline":"middle","fontSize":21},
 "encoding":{"text":{"value":"Reprocessed"},"x":{"datum":36,"type":"quantitative","scale":{"type":"log","domain":[3,290],"range":[82.3,581.5],"nice":false},"axis":null},
  "y":{"datum":2850000,"type":"quantitative","scale":{"type":"log","domain":[30,20000000],"range":[1535.5,1097.2],"nice":false},"axis":null}}},
{"data":{"values":[{}]},"mark":{"type":"text","align":"left","baseline":"middle","fontSize":21},
 "encoding":{"text":{"value":"Data"},"x":{"datum":36,"type":"quantitative","scale":{"type":"log","domain":[3,290],"range":[82.3,581.5],"nice":false},"axis":null},
  "y":{"datum":1100000,"type":"quantitative","scale":{"type":"log","domain":[30,20000000],"range":[1535.5,1097.2],"nice":false},"axis":null}}},
{"data":{"values":[{}]},"mark":{"type":"text","align":"left","baseline":"middle","fontSize":23},
 "encoding":{"text":{"value":"(c) IF06 3"},"x":{"datum":3.64,"type":"quantitative","scale":{"type":"log","domain":[3,290],"range":[82.3,581.5],"nice":false},"axis":null},
  "y":{"datum":7420000,"type":"quantitative","scale":{"type":"log","domain":[30,20000000],"range":[1535.5,1097.2],"nice":false},"axis":null}}},
{"data":{"name":"lcC"},"mark":{"type":"area","color":"#B2B9C0","opacity":1},
 "encoding":{"x":{"field":"t","type":"quantitative","scale":{"type":"linear","domain":[-0.2,1.4],"range":[158.3,359.8],"nice":false,"zero":false},
   "axis":{"orient":"bottom","offset":-121,"values":[0,0.5,1],"format":".1f","tickSize":-5,"labelFontSize":15,"labelPadding":8,"title":"Time (s)","titleFontSize":15.5,"titlePadding":12}},
  "y":{"field":"r","type":"quantitative","scale":{"type":"linear","domain":[0,1000],"range":[1475,1334.3],"nice":false,"zero":false},
   "axis":{"orient":"left","offset":-158.3,"values":[0,250,500,750,1000],"format":"d","tickSize":-5,"labelFontSize":15,"labelPadding":8.5,"title":"Counts s⁻¹","titleFontSize":15.5,"titlePadding":13.5}},
  "y2":{"datum":0}}},
{"data":{"name":"lcC"},"mark":{"type":"line","color":"black","strokeWidth":1.5},
 "encoding":{"x":{"field":"t","type":"quantitative","scale":{"type":"linear","domain":[-0.2,1.4],"range":[158.3,359.8],"nice":false,"zero":false},
   "axis":{"orient":"top","offset":-1334.3,"values":[0,0.5,1],"tickSize":-5,"labels":false,"title":"Light Curve (15-150 keV)","titleFontSize":15.5,"titlePadding":9}},
  "y":{"field":"r","type":"quantitative","scale":{"type":"linear","domain":[0,1000],"range":[1475,1334.3],"nice":false,"zero":false},
   "axis":{"orient":"right","offset":-224.2,"values":[0,250,500,750,1000],"tickSize":-5,"labels":false,"title":null}}}}
]
}
